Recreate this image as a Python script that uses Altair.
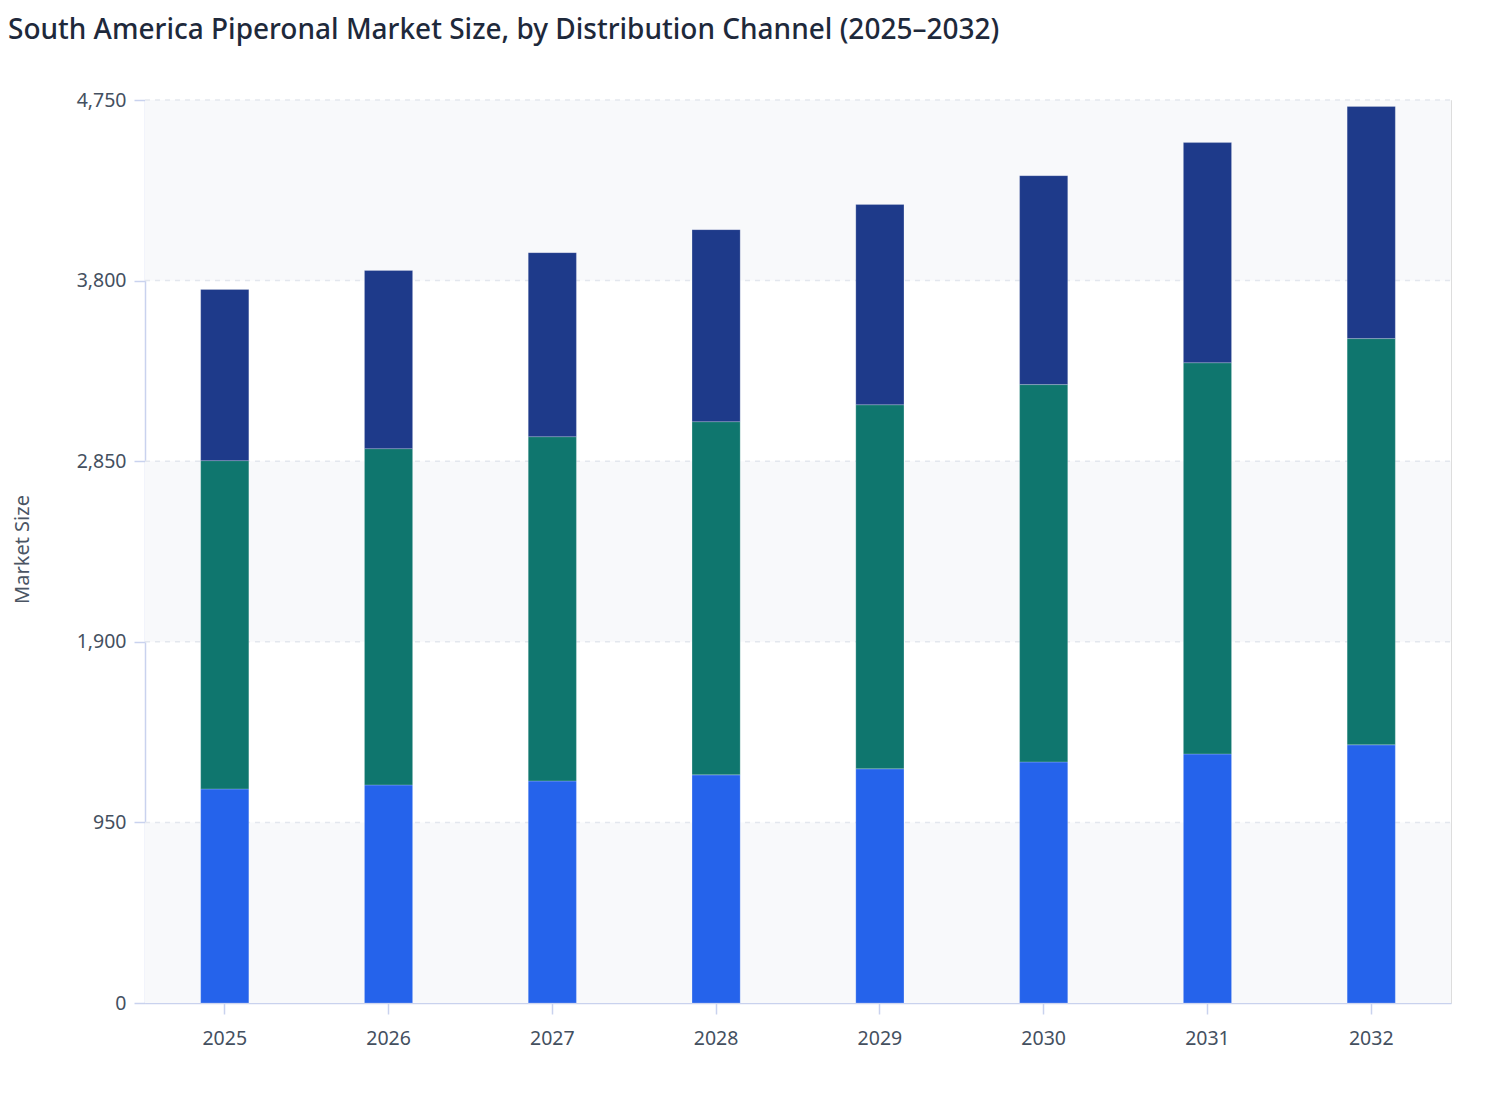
import altair as alt
import pandas as pd

years = ["2025", "2026", "2027", "2028", "2029", "2030", "2031", "2032"]
channels = ["Direct Sales", "Distributors", "Online Retail"]
direct_sales = [1126, 1147, 1168, 1200, 1232, 1268, 1310, 1358]
distributors = [1727, 1769, 1811, 1858, 1915, 1985, 2058, 2137]
online_retail = [900, 937, 968, 1010, 1053, 1099, 1158, 1221]
colors = ["#2563eb", "#0f766e", "#1e3a8a"]
y_ticks = [0, 950, 1900, 2850, 3800, 4750]

rows = []
for i, y in enumerate(years):
    for k, (name, vals) in enumerate(zip(channels, [direct_sales, distributors, online_retail])):
        rows.append({"Year": y, "Channel": name, "Value": vals[i], "order": k})
df = pd.DataFrame(rows)

bands = pd.DataFrame({"y0": [0, 1900, 3800], "y1": [950, 2850, 4750]})
grid = pd.DataFrame({"v": y_ticks[1:]})

W, H = 1306, 903
yscale = alt.Scale(domain=[0, 4750], nice=False, zero=True)

band_layer = alt.Chart(bands).mark_rect(color="#f8f9fb").encode(
    x=alt.value(0), x2=alt.value("width"),
    y=alt.Y("y0:Q", scale=yscale), y2="y1:Q",
)

grid_layer = alt.Chart(grid).mark_rule(color="#e3e7ee", strokeDash=[5, 5], strokeWidth=1.5).encode(
    x=alt.value(0), x2=alt.value("width"),
    y=alt.Y("v:Q", scale=yscale),
)

bars = alt.Chart(df).mark_bar(stroke="#ffffff", strokeWidth=0.6, strokeOpacity=0.35).encode(
    x=alt.X("Year:N", sort=years,
            scale=alt.Scale(paddingInner=0.706, paddingOuter=0.34),
            axis=alt.Axis(title=None, labelAngle=0, labelFontSize=19.5, labelColor="#44505f",
                          labelFont="Noto Sans", tickSize=11, tickColor="#c9d2ee",
                          domainColor="#c9d2ee", domainWidth=1.5, tickWidth=1.5,
                          labelPadding=15)),
    y=alt.Y("Value:Q", stack="zero", scale=yscale,
            axis=alt.Axis(title="Market Size", values=y_ticks, format=",d", grid=False,
                          labelFontSize=19.5, labelColor="#44505f", labelFont="Noto Sans",
                          tickSize=11, tickColor="#c9d2ee", domainColor="#c9d2ee",
                          domainWidth=1.5, tickWidth=1.5, labelPadding=8,
                          titleFont="Noto Sans", titleFontSize=20, titleFontWeight="normal",
                          titleColor="#4b5563", titleAngle=-90, titleX=-123, titleY=449,
                          titleAlign="center", titleBaseline="middle")),
    color=alt.Color("Channel:N", scale=alt.Scale(domain=channels, range=colors), legend=None),
    order=alt.Order("order:Q"),
)

chart = alt.layer(band_layer, grid_layer, bars).properties(
    width=W, height=H,
    autosize=alt.AutoSizeParams(type="none"),
    padding={"left": 137, "top": 92, "right": 49, "bottom": 70},
    title=alt.TitleParams(
        "South America Piperonal Market Size, by Distribution Channel (2025–2032)",
        anchor="start", frame="group", dx=-137, offset=45,
        font="Noto Sans", fontSize=28, fontWeight=500, color="#1e293b",
    ),
).configure_view(stroke=None).configure(background="#ffffff")

chart.save("out.html", embed_options={"renderer": "svg", "actions": False})
